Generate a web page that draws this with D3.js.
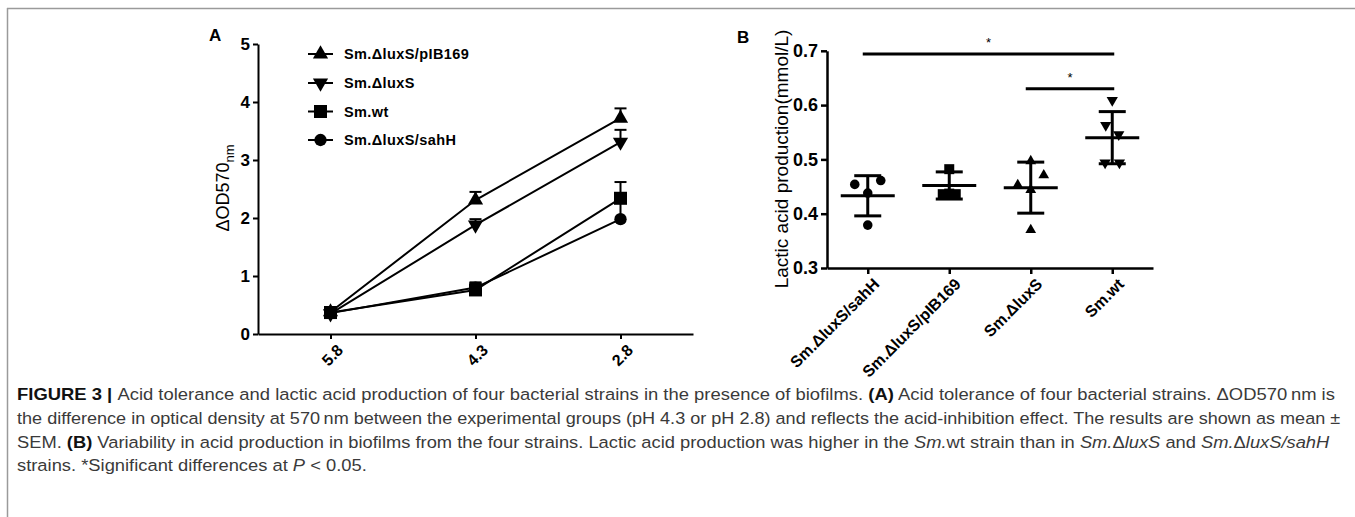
<!DOCTYPE html>
<html><head><meta charset="utf-8">
<script src="https://cdn.jsdelivr.net/npm/d3@7"></script>
<style>body{margin:0;background:#fff} svg{display:block}</style>
</head><body>
<svg id="c" width="1355" height="517"></svg>
<script>
// ---------- Panel A data ----------
const phLabels = ["5.8", "4.3", "2.8"];
const seriesA = ["Sm.ΔluxS/pIB169", "Sm.ΔluxS", "Sm.wt", "Sm.ΔluxS/sahH"];
const pIB169Mean = [0.38, 2.31, 3.72];
const pIB169Err  = [0.03, 0.14, 0.17];
const luxSMean   = [0.35, 1.88, 3.31];
const luxSErr    = [0.03, 0.10, 0.21];
const wtMean     = [0.37, 0.76, 2.34];
const wtErr      = [0.04, 0.13, 0.28];
const sahHMean   = [0.36, 0.80, 1.98];
const sahHErr    = [0.03, 0.08, 0.30];
const yTicksA = [0, 1, 2, 3, 4, 5];

// ---------- Panel B data ----------
const strainsB = ["Sm.ΔluxS/sahH", "Sm.ΔluxS/pIB169", "Sm.ΔluxS", "Sm.wt"];
const sahHPoints   = [0.454, 0.461, 0.438, 0.379];
const sahHSlots    = [-1, 1, 0, 0];
const pIB169Points = [0.482, 0.436, 0.436, 0.437];
const pIB169Slots  = [0, -0.5, 0.5, 0];
const luxSPoints   = [0.497, 0.453, 0.471, 0.444, 0.370];
const luxSSlots    = [0, -1, 1, 0, 0];
const wtPoints     = [0.609, 0.563, 0.546, 0.494, 0.494];
const wtSlots      = [0, -0.5, 0.5, -0.55, 0.55];
const meansB = [0.433, 0.452, 0.448, 0.540];
const sdB    = [0.037, 0.025, 0.047, 0.048];
const yTicksB = [0.3, 0.4, 0.5, 0.6, 0.7];
const sigPairs = [[0, 3, 0.694], [2, 3, 0.630]];

const svg = d3.select("#c");
const FONT = "'Liberation Sans', Arial, Helvetica, sans-serif";

// frame
svg.append("line").attr("x1", 7).attr("x2", 1355).attr("y1", 8.5).attr("y2", 8.5)
  .attr("stroke", "#9a9a9a").attr("stroke-width", 1.5);
svg.append("line").attr("x1", 7.5).attr("x2", 7.5).attr("y1", 8).attr("y2", 517)
  .attr("stroke", "#9a9a9a").attr("stroke-width", 1.5);

// ================= Panel A =================
const gA = svg.append("g");
const xA = d3.scalePoint().domain(phLabels).range([258, 693]).padding(0.5);
const yA = d3.scaleLinear().domain([0, 5]).range([334, 44]);

const axLA = gA.append("g").attr("transform", "translate(258,0)")
  .call(d3.axisLeft(yA).tickValues(yTicksA).tickSize(5).tickSizeOuter(0).tickFormat(d3.format("d")));
const axBA = gA.append("g").attr("transform", "translate(0,334)")
  .call(d3.axisBottom(xA).tickSize(5).tickSizeOuter(0));
[axLA, axBA].forEach(a => {
  a.select(".domain").attr("stroke", "#000").attr("stroke-width", 2);
  a.selectAll(".tick line").attr("stroke", "#000").attr("stroke-width", 2);
  a.selectAll("text").attr("font-family", FONT).attr("font-weight", "bold").attr("fill", "#000");
});
axLA.selectAll("text").attr("font-size", 17).attr("x", -8);
axBA.selectAll("text").attr("font-size", 16).attr("text-anchor", "end")
  .attr("transform", "translate(5,9) rotate(-45)").attr("x", 0).attr("y", 0).attr("dy", "0.72em");

gA.append("text").attr("transform", "translate(229,188) rotate(-90)")
  .attr("text-anchor", "middle").attr("font-family", FONT).attr("font-size", 18)
  .text("ΔOD570").append("tspan").attr("font-size", 13).attr("dy", 5).text("nm");

gA.append("text").attr("x", 209).attr("y", 41).attr("font-family", FONT)
  .attr("font-weight", "bold").attr("font-size", 17).text("A");

const seriesDataA = [
  {name: seriesA[0], mean: pIB169Mean, err: pIB169Err, sym: "up"},
  {name: seriesA[1], mean: luxSMean, err: luxSErr, sym: "down"},
  {name: seriesA[2], mean: wtMean, err: wtErr, sym: "square"},
  {name: seriesA[3], mean: sahHMean, err: sahHErr, sym: "circle"}
];
function symPath(kind, scale) {
  const s = scale || 1;
  if (kind === "circle") return d3.symbol(d3.symbolCircle, 120 * s)();
  if (kind === "square") return d3.symbol(d3.symbolSquare, 170 * s)();
  return d3.symbol(d3.symbolTriangle, 100 * s)();
}
function symTransform(kind, x, y) {
  return `translate(${x},${y})` + (kind === "down" ? " rotate(180)" : "");
}
const line = d3.line().x((d, i) => xA(phLabels[i])).y(d => yA(d));
gA.selectAll(".ln").data(seriesDataA).join("path")
  .attr("d", d => line(d.mean)).attr("fill", "none").attr("stroke", "#000").attr("stroke-width", 2);
seriesDataA.forEach(s => {
  s.mean.forEach((m, i) => {
    const x = xA(phLabels[i]);
    gA.append("line").attr("x1", x).attr("x2", x).attr("y1", yA(m)).attr("y2", yA(m + s.err[i]))
      .attr("stroke", "#000").attr("stroke-width", 2);
    gA.append("line").attr("x1", x - 6).attr("x2", x + 6).attr("y1", yA(m + s.err[i])).attr("y2", yA(m + s.err[i]))
      .attr("stroke", "#000").attr("stroke-width", 2);
  });
});
[3, 2, 1, 0].forEach(k => {
  const s = seriesDataA[k];
  s.mean.forEach((m, i) => {
    gA.append("path").attr("d", symPath(s.sym)).attr("transform", symTransform(s.sym, xA(phLabels[i]), yA(m)))
      .attr("fill", "#000");
  });
});
const legY = [54, 83, 111.5, 140];
seriesDataA.forEach((s, i) => {
  const g = gA.append("g").attr("transform", `translate(0,${legY[i]})`);
  g.append("line").attr("x1", 308).attr("x2", 333).attr("y1", 0).attr("y2", 0).attr("stroke", "#000").attr("stroke-width", 2);
  g.append("path").attr("d", symPath(s.sym)).attr("transform", symTransform(s.sym, 320.5, 0)).attr("fill", "#000");
  g.append("text").attr("x", 344).attr("y", 0).attr("dy", "0.36em").attr("font-family", FONT)
    .attr("font-weight", "bold").attr("font-size", 14.5).attr("letter-spacing", 0.4).text(s.name);
});

// ================= Panel B =================
const gB = svg.append("g");
const xB = d3.scalePoint().domain(strainsB).range([827, 1153]).padding(0.5);
const yB = d3.scaleLinear().domain([0.3, 0.7]).range([268, 50.8]);

const axLB = gB.append("g").attr("transform", "translate(827,0)")
  .call(d3.axisLeft(yB).tickValues(yTicksB).tickSize(6).tickSizeOuter(0).tickFormat(d3.format(".1f")));
const axBB = gB.append("g").attr("transform", "translate(0,268)")
  .call(d3.axisBottom(xB).tickSize(6).tickSizeOuter(0));
[axLB, axBB].forEach(a => {
  a.select(".domain").attr("stroke", "#000").attr("stroke-width", 2.5);
  a.selectAll(".tick line").attr("stroke", "#000").attr("stroke-width", 2.5);
  a.selectAll("text").attr("font-family", FONT).attr("font-weight", "bold").attr("fill", "#000");
});
axLB.selectAll("text").attr("font-size", 18).attr("x", -9);
axBB.selectAll("text").attr("font-size", 16).attr("text-anchor", "end")
  .attr("transform", "translate(4,9) rotate(-45)").attr("x", 0).attr("y", 0).attr("dy", "0.72em");

gB.append("text").attr("transform", "translate(788,159) rotate(-90)")
  .attr("text-anchor", "middle").attr("font-family", FONT).attr("font-size", 19)
  .text("Lactic acid production(mmol/L)");
gB.append("text").attr("x", 737).attr("y", 43).attr("font-family", FONT)
  .attr("font-weight", "bold").attr("font-size", 17).text("B");

const groupsB = [
  {pts: sahHPoints, slots: sahHSlots, sym: "circle", size: 72},
  {pts: pIB169Points, slots: pIB169Slots, sym: "square", size: 100},
  {pts: luxSPoints, slots: luxSSlots, sym: "up", size: 50},
  {pts: wtPoints, slots: wtSlots, sym: "down", size: 55}
];
const SLOT = 13;
groupsB.forEach((g, i) => {
  const cx = xB(strainsB[i]);
  g.pts.forEach((v, j) => {
    const t = g.sym === "circle" ? d3.symbolCircle : g.sym === "square" ? d3.symbolSquare : d3.symbolTriangle;
    gB.append("path").attr("d", d3.symbol(t, g.size)())
      .attr("transform", symTransform(g.sym, cx + g.slots[j] * SLOT, yB(v))).attr("fill", "#000");
  });
  const m = meansB[i], sd = sdB[i];
  const add = (x1, x2, y1, y2) => gB.append("line").attr("x1", x1).attr("x2", x2).attr("y1", y1).attr("y2", y2)
    .attr("stroke", "#000").attr("stroke-width", 3);
  add(cx - 27, cx + 27, yB(m), yB(m));
  add(cx, cx, yB(m - sd), yB(m + sd));
  add(cx - 13.5, cx + 13.5, yB(m + sd), yB(m + sd));
  add(cx - 13.5, cx + 13.5, yB(m - sd), yB(m - sd));
});
sigPairs.forEach(([a, b, v]) => {
  const x1 = xB(strainsB[a]) - 5, x2 = xB(strainsB[b]) + 2;
  gB.append("line").attr("x1", x1).attr("x2", x2).attr("y1", yB(v)).attr("y2", yB(v))
    .attr("stroke", "#000").attr("stroke-width", 3);
  gB.append("text").attr("x", (x1 + x2) / 2).attr("y", yB(v) - 7).attr("text-anchor", "middle")
    .attr("font-family", FONT).attr("font-size", 13).text("*");
});

// ================= Caption =================
const captionLines = [
  [["FIGURE 3 | ", "b"], ["Acid tolerance and lactic acid production of four bacterial strains in the presence of biofilms. ", ""], ["(A)", "b"], [" Acid tolerance of four bacterial strains. ΔOD570\u2009nm is", ""]],
  [["the difference in optical density at 570\u2009nm between the experimental groups (pH 4.3 or pH 2.8) and reflects the acid-inhibition effect. The results are shown as mean ±", ""]],
  [["SEM. ", ""], ["(B)", "b"], [" Variability in acid production in biofilms from the four strains. Lactic acid production was higher in the ", ""], ["Sm.", "i"], ["wt strain than in ", ""], ["Sm.", "i"], ["Δ", ""], ["luxS", "i"], [" and ", ""], ["Sm.", "i"], ["Δ", ""], ["luxS/sahH", "i"]],
  [["strains. *Significant differences at ", ""], ["P", "i"], [" < 0.05.", ""]]
];
const capWidths = [1319, 1324, 1313, 350];
const capY = [399.5, 423.5, 447.5, 471];
captionLines.forEach((segs, i) => {
  const t = svg.append("text").attr("font-family", "'Liberation Sans Narrow', 'Liberation Sans', Arial, sans-serif")
    .attr("font-size", 16.5).attr("fill", "#3a3a3a").attr("x", 0).attr("y", 0).attr("xml:space", "preserve");
  segs.forEach(([s, st]) => {
    const ts = t.append("tspan").text(s);
    if (st === "b") ts.attr("font-weight", "bold").attr("fill", "#111");
    if (st === "i") ts.attr("font-style", "italic");
  });
  const w = t.node().getComputedTextLength();
  t.attr("transform", `translate(17,${capY[i]}) scale(${capWidths[i] / w},1)`);
});
</script>
</body></html>
